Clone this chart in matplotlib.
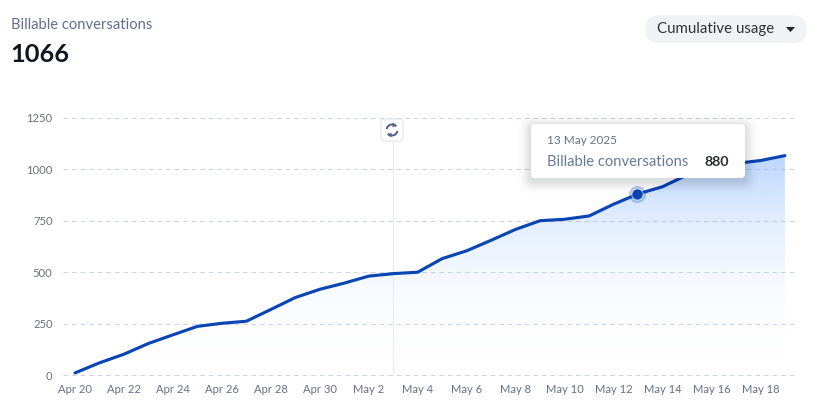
import numpy as np
import matplotlib
matplotlib.use("Agg")
import matplotlib.pyplot as plt
from matplotlib.patches import FancyBboxPatch, Polygon, Arc
from matplotlib.transforms import ScaledTranslation

plt.rcParams["font.family"] = "Lato"

dates = ["Apr 20","Apr 21","Apr 22","Apr 23","Apr 24","Apr 25","Apr 26","Apr 27","Apr 28","Apr 29",
         "Apr 30","May 1","May 2","May 3","May 4","May 5","May 6","May 7","May 8","May 9",
         "May 10","May 11","May 12","May 13","May 14","May 15","May 16","May 17","May 18","May 19"]
values = [11,60,102,154,196,237,252,262,319,377,417,447,481,493,500,566,604,655,708,750,
          757,773,830,880,915,972,1012,1028,1042,1066]
y_ticks = [0,250,500,750,1000,1250]
highlight = "May 13"
marker_line = "May 3"

W, H = 823, 408
fig = plt.figure(figsize=(W/100, H/100), dpi=100, facecolor="white")

L, R, T, B = 63, 795, 117.7, 375.2
PXD = 24.48
ax = fig.add_axes([L/W, 1-B/H, (R-L)/W, (B-T)/H], facecolor="none")
x = np.arange(len(values))
xlim = ((L-75)/PXD, (R-75)/PXD)
ax.set_ylim(0, 1250)
for s in ax.spines.values():
    s.set_visible(False)

ax.set_yticks(y_ticks)
ax.set_xticks(x[::2])
ax.set_xticklabels(dates[::2])
ax.tick_params(axis="x", length=0, labelsize=8.1, labelcolor="#667085", pad=6.2)
ax.tick_params(axis="y", length=0, labelsize=8.1, labelcolor="#6b6f76", pad=7.5)
ax.grid(axis="y", color="#cdd5e0", lw=0.75, dashes=(4.6, 3.6), zorder=1)
ax.grid(axis="x", visible=False)
for gl in ax.get_ygridlines():
    gl.set_clip_on(False)

# gradient area
n = 256
frac = np.linspace(1, 0, n)
alpha = np.interp(frac, [0, 0.23, 0.47, 0.70, 1.0], [0, 0.015, 0.08, 0.20, 0.46])
rgba = np.zeros((n, 1, 4))
rgba[..., 0] = 110/255
rgba[..., 1] = 168/255
rgba[..., 2] = 250/255
rgba[:, 0, 3] = alpha
im = ax.imshow(rgba, extent=[x[0], x[-1], 0, max(values)], aspect="auto", zorder=2, origin="upper")
poly = Polygon(list(zip(x, values)) + [(x[-1], 0), (x[0], 0)], closed=True, transform=ax.transData,
               fc="none", ec="none")
ax.add_patch(poly)
im.set_clip_path(poly)
ax.set_xlim(*xlim)
ax.set_ylim(0, 1250)

# vertical marker
mi = dates.index(marker_line)
ax.axvline(x[mi], ymin=0, ymax=0.95, color="#e8ecf2", lw=0.8, zorder=3)

ax.plot(x, values, color="#0a45b4", lw=2.25, solid_joinstyle="round", solid_capstyle="round", zorder=4)

hi = dates.index(highlight)
shift = ax.transData + ScaledTranslation(-1.4/100, 0, fig.dpi_scale_trans)
ax.scatter([x[hi]], [values[hi]], s=150, color="#0a45b4", alpha=0.28, lw=0, zorder=5, transform=shift)
ax.scatter([x[hi]], [values[hi]], s=80, color="white", alpha=0.55, lw=0, zorder=5, transform=shift)
ax.scatter([x[hi]], [values[hi]], s=55, color="#0a45b4", lw=0, zorder=6, transform=shift)

# overlay in pixel coordinates for UI furniture
ui = fig.add_axes([0, 0, 1, 1], facecolor="none")
ui.set_xlim(0, W); ui.set_ylim(H, 0); ui.axis("off")

ui.text(11, 25, "Billable conversations", fontsize=10.65, color="#5f6f8e", va="center", ha="left")
ui.text(10.5, 55, "1066", fontsize=18.3, color="#0f1720", va="center", ha="left", weight="bold")

ui.add_patch(FancyBboxPatch((645.5, 15.5), 161, 27.5, boxstyle="round,pad=0,rounding_size=13",
                            fc="#f1f2f4", ec="none"))
ui.text(657, 29.5, "Cumulative usage", fontsize=10.8, color="#2f3237", va="center", ha="left")
ui.add_patch(Polygon([(786, 27), (795, 27), (790.5, 32)], closed=True, fc="#1f2226", ec="none"))

# tooltip with soft shadow
tx, ty, tw, th = 531, 124, 214, 54
for i in range(15, 0, -1):
    ui.add_patch(FancyBboxPatch((tx-i, ty+3-i), tw+2*i, th+2*i, boxstyle=f"round,pad=0,rounding_size={4+i}",
                                fc="#1f2a44", ec="none", alpha=0.0035*(16-i)/3, zorder=7))
ui.add_patch(FancyBboxPatch((tx, ty), tw, th, boxstyle="round,pad=0,rounding_size=4",
                            fc="white", ec="none", zorder=8))
ui.text(547, 140, "13 May 2025", fontsize=8.5, color="#667085", va="center", zorder=9)
ui.text(547, 161.5, "Billable conversations", fontsize=10.65, color="#667a97", va="center", zorder=9)
ui.text(729, 161.5, str(values[hi]), fontsize=10.3, color="#2a2d31", va="center", ha="right",
        weight="bold", zorder=9)

# sync icon badge
ui.add_patch(FancyBboxPatch((381, 119), 22, 22, boxstyle="round,pad=0,rounding_size=3.5",
                            fc="white", ec="#dfe6ef", lw=0.8, zorder=7))
ui.add_patch(Arc((392, 130), 11, 11, theta1=190, theta2=320, ec="#4d6383", lw=1.4, zorder=8))
ui.add_patch(Arc((392, 130), 11, 11, theta1=10, theta2=140, ec="#4d6383", lw=1.4, zorder=8))
ui.add_patch(Polygon([(392.5, 122.5), (396.5, 125), (392.5, 127.5)], closed=True, fc="#4d6383", ec="none", zorder=8))
ui.add_patch(Polygon([(391.5, 132.5), (387.5, 135), (391.5, 137.5)], closed=True, fc="#4d6383", ec="none", zorder=8))

fig.savefig("out.png", dpi=100, facecolor="white")
